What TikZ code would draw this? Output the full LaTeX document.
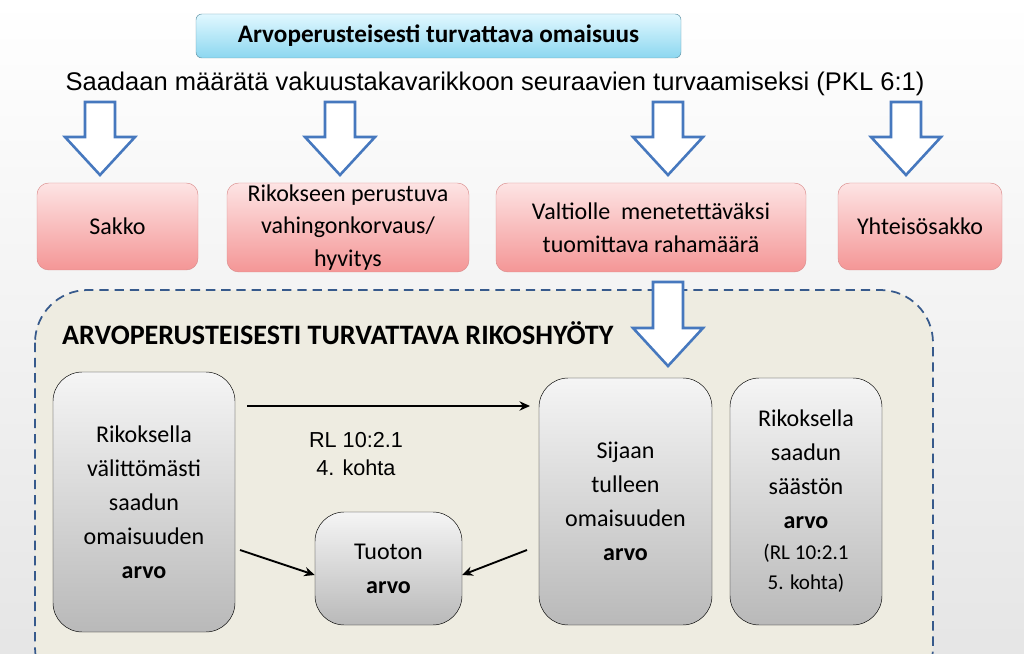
\documentclass[tikz,border=0pt]{standalone}
\usepackage{fontspec}
\setmainfont{Carlito}
\newfontfamily\arialf{Liberation Sans}
\usetikzlibrary{arrows.meta}
\definecolor{pinkA}{RGB}{253,228,228}
\definecolor{pinkB}{RGB}{244,150,150}
\definecolor{pinkE}{RGB}{200,90,90}
\definecolor{grayA}{RGB}{245,245,245}
\definecolor{grayB}{RGB}{185,185,185}
\definecolor{beige}{RGB}{238,236,225}
\definecolor{dblue}{RGB}{55,90,140}
\definecolor{ablue}{RGB}{70,120,190}
\definecolor{cyanA}{RGB}{225,248,255}
\definecolor{cyanB}{RGB}{140,215,240}
\tikzset{
  pinkbox/.style={draw=pinkE!70,rounded corners=10,top color=pinkA,bottom color=pinkB,align=center,font=\fontsize{20.5}{28}\selectfont,inner sep=0},
  graybox/.style={draw=black,rounded corners=25,top color=grayA,bottom color=grayB,align=center,font=\fontsize{20.5}{29}\selectfont,inner sep=0},
  darr/.pic={\draw[ablue,line width=2.2,fill=white,line join=miter] (-15,0) -- (15,0) -- (15,#1-38) -- (35,#1-38) -- (0,#1) -- (-35,#1-38) -- (-15,#1-38) -- cycle;},
  blk/.style={-{Stealth[length=9,width=8]},line width=1.6}
}
\begin{document}
\begin{tikzpicture}[x=0.03cm,y=-0.03cm]
\useasboundingbox (0,0) rectangle (1024,654);
\shade[top color=white,bottom color=black!10] (0,0) rectangle (1024,654);
\node[draw=cyanB!70!black,rounded corners=5,top color=cyanA,bottom color=cyanB,minimum width=485*0.03cm,minimum height=44*0.03cm,font=\bfseries\fontsize{21.5}{24}\selectfont] (title) at (438.5,36) {Arvoperusteisesti turvattava omaisuus};
\node[font=\arialf\fontsize{21.8}{24}\selectfont] (sub) at (495,84) {Saadaan määrätä vakuustakavarikkoon seuraavien turvaamiseksi (PKL 6:1)};
\foreach \x in {100,340,668,906}
  \pic at (\x,102) {darr=73};
\node[pinkbox,minimum width=161*0.03cm,minimum height=87*0.03cm] (p1) at (117.5,226.5) {Sakko};
\node[pinkbox,minimum width=242*0.03cm,minimum height=89*0.03cm] (p2) at (348,227.5) {Rikokseen perustuva\\vahingonkorvaus/\\hyvitys};
\node[pinkbox,minimum width=310*0.03cm,minimum height=89*0.03cm] (p3) at (651,227.5) {Valtiolle\ \ menetettäväksi\\tuomittava rahamäärä};
\node[pinkbox,minimum width=164*0.03cm,minimum height=87*0.03cm] (p4) at (920,226.5) {Yhteisösakko};
\draw[dblue,dashed,line width=1.5,dash pattern=on 8pt off 5pt,fill=beige,rounded corners=45] (35,290) rectangle (933,700);
\pic at (668,282) {darr=84};
\node[anchor=west,font=\bfseries\fontsize{24}{26}\selectfont] (hd) at (58,333) {ARVOPERUSTEISESTI TURVATTAVA RIKOSHYÖTY};
\node[graybox,minimum width=182*0.03cm,minimum height=260*0.03cm] (g1) at (144,502) {Rikoksella\\välittömästi\\saadun\\omaisuuden\\\textbf{arvo}};
\node[graybox,minimum width=147*0.03cm,minimum height=113*0.03cm] (g2) at (388.5,568.5) {Tuoton\\\textbf{arvo}};
\node[graybox,minimum width=173*0.03cm,minimum height=247*0.03cm] (g3) at (625.5,501.5) {Sijaan\\tulleen\\omaisuuden\\\textbf{arvo}};
\node[graybox,minimum width=152*0.03cm,minimum height=247*0.03cm] (g4) at (806,501.5) {Rikoksella\\saadun\\säästön\\\textbf{arvo}\\[-3pt]{\fontsize{18}{24}\selectfont (RL 10:2.1}\\[-3pt]{\fontsize{18}{24}\selectfont 5. kohta)}};
\node[font=\arialf\fontsize{18.5}{24}\selectfont,align=center] (rl) at (356,454) {RL 10:2.1\\4. kohta};
\coordinate (s1) at (247,406); \coordinate (e1) at (530,406);
\draw[blk] (s1) -- (e1);
\coordinate (s2) at (240,550); \coordinate (s3) at (527,550);
\draw[blk] (s2) -- (g2.west|-0,575);
\draw[blk] (s3) -- (g2.east|-0,575);
\end{tikzpicture}
\end{document}
